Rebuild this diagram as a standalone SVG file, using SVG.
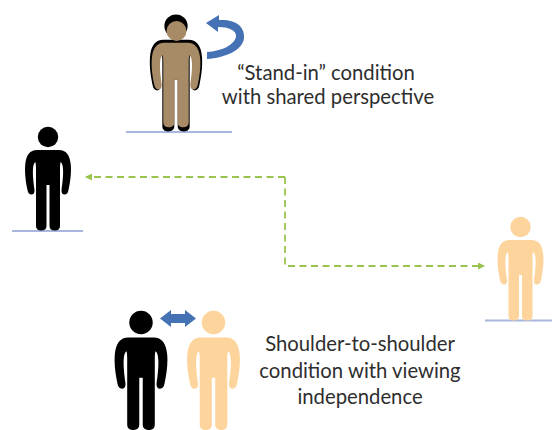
<svg xmlns="http://www.w3.org/2000/svg" width="552" height="430" viewBox="0 0 552 430">
<style>
text{font-family:"Lato","Liberation Sans",sans-serif;font-size:20.300px;fill:#2e2e2e;text-anchor:middle}
.ground{stroke:#aab6dc;stroke-width:2;fill:none}
.dash{stroke:#9bc44f;stroke-width:1.800;fill:none;stroke-dasharray:7 4.500}
.blk{fill:#000}.bei{fill:#fdd49c}.brn{fill:#a78b66}
</style>
<defs>
<path id="body" d="M-11 23H11C18 23 22 28 22.800 38C23.500 47 22 56 20.500 63C20 66 18.500 67.500 16.500 67.500C14.500 67.500 13.300 66 13.500 63C14.500 56 15.500 47 15 42C14.800 38 14 36 12.600 35C12.300 36 12 38 12 42V99C12 102 10 103.500 7 103.500C3.500 103.500 1.500 102 1.500 99V58H-1.500V99C-1.500 102-3.500 103.500-7 103.500C-10 103.500-12 102-12 99V42C-12 38-12.300 36-12.600 35C-14 36-14.800 38-15 42C-15.500 47-14.500 56-13.500 63C-13.300 66-14.500 67.500-16.500 67.500C-18.500 67.500-20 66-20.500 63C-22 56-23.500 47-22.800 38C-22 28-18 23-11 23Z"/>
<marker id="gh" markerWidth="7" markerHeight="7" refX="6" refY="3.500" orient="auto" markerUnits="userSpaceOnUse"><path d="M0 0L7 3.500L0 7Z" fill="#9bc44f"/></marker>
</defs>
<rect width="552" height="430" fill="#fff"/>
<g id="connectors">
<path class="dash" d="M285 177H86" marker-end="url(#gh)"/>
<path class="dash" d="M285 177V266H484" marker-end="url(#gh)"/>
<path id="turn-arrow" fill="#4472b4" d="M207 52C222 51 234 45 236 37C237 30 228 27 218 27L218 32L206 23L219 15L219 20C235 19 245 26 244 38C243 50 225 58 207 59Z"/>
<path id="swap-arrow" fill="#4472b4" d="M160 318.500L171 310V314H185V310L196 318.500L185 327V323H171V327Z"/>
</g>
<g id="stand-in">
<line class="ground" x1="126" y1="132" x2="232" y2="132"/>
<g class="blk" transform="translate(176 13.500) scale(1.14)"><circle cx="0" cy="11" r="10.200"/><use href="#body"/></g>
<g class="brn" transform="translate(176 18.500) scale(1.060 1.050)"><use href="#body"/></g>
<circle class="brn" cx="176.500" cy="31" r="10"/>
<text x="326" y="80">“Stand-in” condition</text>
<text x="328" y="104">with shared perspective</text>
</g>
<g id="left-person" class="blk">
<line class="ground" x1="12" y1="231" x2="83" y2="231"/>
<circle cx="48" cy="137" r="10.200"/>
<use href="#body" x="48" y="127"/>
</g>
<g id="right-person" class="bei">
<line class="ground" x1="485" y1="320.500" x2="552" y2="320.500"/>
<circle cx="520.500" cy="227" r="10.200"/>
<use href="#body" x="520.500" y="217"/>
</g>
<g id="shoulder-black" class="blk" transform="translate(141 311) scale(1.150)">
<circle cx="0" cy="10" r="10.200"/><use href="#body"/>
</g>
<g id="shoulder-beige" class="bei" transform="translate(213.500 311) scale(1.150)">
<circle cx="0" cy="10" r="10.200"/><use href="#body"/>
</g>
<g id="shoulder-label">
<text x="360" y="351">Shoulder-to-shoulder</text>
<text x="360" y="378">condition with viewing</text>
<text x="360" y="404">independence</text>
</g>
</svg>
